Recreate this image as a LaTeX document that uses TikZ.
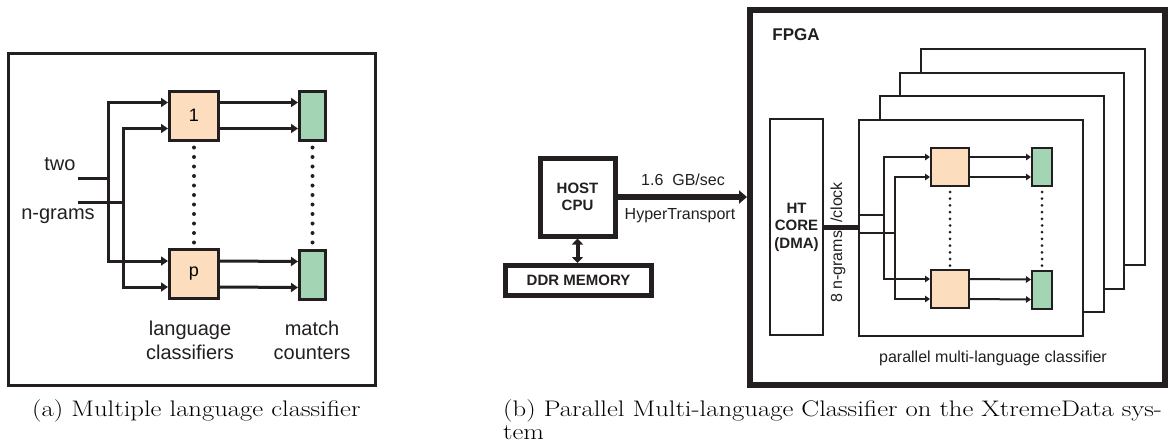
\documentclass[tikz,border=0pt]{standalone}
\usepackage{fontspec}
\newfontfamily\arialfont{Liberation Sans}
\definecolor{clspeach}{RGB}{252, 222, 190}
\definecolor{cntgreen}{RGB}{163, 213, 181}
\definecolor{inkgray}{RGB}{35, 31, 32}
\usetikzlibrary{arrows.meta, positioning, calc}

\begin{document}
\begin{tikzpicture}[x=1pt, y=-1pt,
    lbla/.style={font=\arialfont\fontsize{20}{24}\selectfont, align=center, inner sep=0pt, text=inkgray},
    lblb/.style={font=\arialfont\fontsize{16}{19}\selectfont, align=center, inner sep=0pt, text=inkgray},
    boldb/.style={font=\arialfont\bfseries\fontsize{15}{17.5}\selectfont, align=center, inner sep=0pt, text=inkgray},
    capt/.style={font=\fontsize{22.5}{24}\selectfont, inner sep=0pt},
    clsa/.style={draw=inkgray, fill=clspeach, line width=3pt, minimum width=49pt, minimum height=49pt, inner sep=0pt, font=\arialfont\fontsize{18}{20}\selectfont},
    cnta/.style={draw=inkgray, fill=cntgreen, line width=3pt, minimum width=26pt, minimum height=49pt, inner sep=0pt},
    clsb/.style={draw=inkgray, fill=clspeach, line width=2pt, minimum width=38pt, minimum height=38pt, inner sep=0pt},
    cntb/.style={draw=inkgray, fill=cntgreen, line width=2pt, minimum width=20pt, minimum height=38pt, inner sep=0pt},
    stackb/.style={draw=inkgray, fill=white, line width=2pt, minimum width=224pt, minimum height=216pt, inner sep=0pt},
    wirea/.style={draw=inkgray, line width=3pt},
    arra/.style={draw=inkgray, line width=3pt, -{Triangle[length=7pt, width=9pt]}},
    wireb/.style={draw=inkgray, line width=2pt},
    arrb/.style={draw=inkgray, line width=2pt, -{Triangle[length=5pt, width=6.5pt]}},
    dotsa/.style={draw=inkgray, line width=4pt, line cap=round, dash pattern=on 0pt off 9.5pt, shorten <=6pt, shorten >=4pt},
    dotsb/.style={draw=inkgray, line width=3pt, line cap=round, dash pattern=on 0pt off 6.7pt, shorten <=5pt, shorten >=3pt}]
  \useasboundingbox (0,0) rectangle (1173,445);

  \node[draw=inkgray, line width=2.5pt, minimum width=367pt, minimum height=332pt, inner sep=0pt] (framea) at (192,219.5) {};
  \node[clsa] (ca1) at (194,115.5) {1};
  \node[clsa] (cap) at (194,274) {p};
  \node[cnta] (ma1) at (312.5,115.5) {};
  \node[cnta] (map) at (312.5,274.5) {};
  \foreach \s in {13,-13} {
    \draw[arra] ([yshift=\s pt]ca1.east) -- ([yshift=\s pt]ma1.west);
    \draw[arra] ([yshift=\s pt]cap.east) -- ([yshift=\s pt]map.west);
  }
  \coordinate (twoa) at (78,178);
  \coordinate (ngra) at (78,202);
  \coordinate (jta) at (108,178);
  \coordinate (jna) at (123,202);
  \draw[wirea] (twoa) -- (jta);
  \draw[wirea] (ngra) -- (jna);
  \draw[arra] (jta) |- ([yshift=13pt]ca1.west);
  \draw[arra] (jta) |- ([yshift=13pt]cap.west);
  \draw[arra] (jna) |- ([yshift=-13pt]ca1.west);
  \draw[arra] (jna) |- ([yshift=-13pt]cap.west);
  \draw[dotsa] (ca1.south) -- (cap.north);
  \draw[dotsa] (ma1.south) -- (map.north);
  \node[lbla] (twolbl) at (60,164) {two};
  \node[lbla] (ngrlbl) at (58,216) {n-grams};
  \node[lbla] (langlbl) at (190,340) {language\\classifiers};
  \node[lbla] (cntlbl) at (312,340) {match\\counters};

  \node[draw=inkgray, line width=5pt, minimum width=75pt, minimum height=78pt, boldb] (host) at (577.5,197) {HOST\\CPU};
  \node[draw=inkgray, line width=5pt, minimum width=146pt, minimum height=30pt, boldb] (ddr) at (578.5,280.5) {DDR MEMORY};
  \draw[draw=inkgray, line width=4pt, {Triangle[length=6pt, width=11pt]}-{Triangle[length=6pt, width=11pt]}] (host.south) -- (host.south |- ddr.north);
  \node[draw=inkgray, line width=6pt, minimum width=415pt, minimum height=375pt, inner sep=0pt] (fpga) at (957.5,197.5) {};
  \draw[draw=inkgray, line width=6pt, -{Triangle[length=8pt, width=13pt]}] (host.east) -- (host.east -| fpga.west);
  \node[lblb] (ratelbl) at (683,180) {1.6~~GB/sec};
  \node[lblb] (htlbl) at (680,216) {HyperTransport};
  \node[font=\arialfont\bfseries\fontsize{17}{20}\selectfont, inner sep=0pt, text=inkgray] (fpgalbl) at (796,35) {FPGA};
  \node[draw=inkgray, line width=2pt, minimum width=53pt, minimum height=216pt, boldb] (htcore) at (796.5,227) {HT\\CORE\\(DMA)};

  \foreach \k in {3,2,1}
    \node[stackb] (stack\k) at ({971+20.7*\k},{228-23.6*\k}) {};
  \node[stackb] (front) at (971,228) {};
  \draw[draw=inkgray, line width=5pt] (htcore.east) -- (htcore.east -| front.west);
  \node[lblb, rotate=90] (ngrb) at (838,242.5) {8 n-grams\enspace/clock};

  \node[clsb] (cb1) at (950,167) {};
  \node[clsb] (cbp) at (950,289) {};
  \node[cntb] (mb1) at (1042,167) {};
  \node[cntb] (mbp) at (1042,289.5) {};
  \foreach \s in {10,-10} {
    \draw[arrb] ([yshift=\s pt]cb1.east) -- ([yshift=\s pt]mb1.west);
    \draw[arrb] ([yshift=\s pt]cbp.east) -- ([yshift=\s pt]mbp.west);
  }
  \coordinate (inb1) at (860,215);
  \coordinate (inb2) at (860,233);
  \coordinate (jb1) at (884,215);
  \coordinate (jb2) at (895,233);
  \draw[wireb] (inb1) -- (jb1);
  \draw[wireb] (inb2) -- (jb2);
  \draw[arrb] (jb1) |- ([yshift=10pt]cb1.west);
  \draw[arrb] (jb1) |- ([yshift=10pt]cbp.west);
  \draw[arrb] (jb2) |- ([yshift=-10pt]cb1.west);
  \draw[arrb] (jb2) |- ([yshift=-10pt]cbp.west);
  \draw[dotsb] (cb1.south) -- (cbp.north);
  \draw[dotsb] (mb1.south) -- (mbp.north);
  \node[lblb] (stacklbl) at (993,358) {parallel multi-language classifier};

  \node[capt, anchor=base west] (capa) at (32,416) {\scalebox{1.185}[1]{(a) Multiple language classifier}};
  \node[capt, anchor=base west] (capb) at (503,416) {\scalebox{1.185}[1]{(b) Parallel Multi-language Classifier on the XtremeData sys-}};
  \node[capt, anchor=base west] (capb2) at (503,439) {\scalebox{1.185}[1]{tem}};
\end{tikzpicture}
\end{document}
